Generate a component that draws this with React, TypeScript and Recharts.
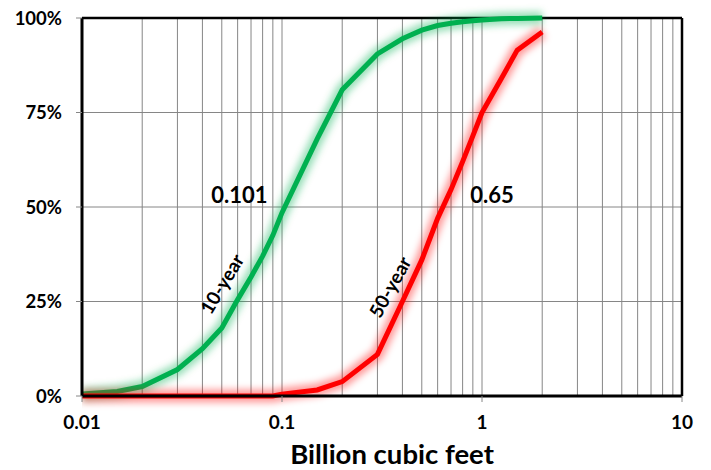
import {
  CartesianGrid,
  Line,
  LineChart,
  ReferenceDot,
  ReferenceLine,
  XAxis,
  YAxis,
} from "recharts";

// volumes, billion cubic feet
const VOLUMES = [
  0.01, 0.015, 0.02, 0.03, 0.04, 0.05, 0.06, 0.07, 0.08, 0.09, 0.1, 0.15, 0.2,
  0.3, 0.4, 0.5, 0.6, 0.7, 0.8, 0.9, 1, 1.25, 1.5, 2,
];
// cumulative probability, %
const TEN_YEAR = [
  0.5, 1.2, 2.5, 7, 12.5, 18, 25.5, 31.5, 37, 42.5, 48.5, 68, 81, 90.5, 94.5,
  96.8, 98, 98.6, 99, 99.3, 99.5, 99.8, 99.9, 100,
];
const FIFTY_YEAR = [
  0, 0, 0, 0, 0, 0, 0, 0, 0, 0, 0.5, 1.6, 3.8, 11, 25, 36, 47, 54.6, 62, 68.8,
  75, 84, 91.5, 96.3,
];

const X_TICKS = [0.01, 0.1, 1, 10];
const Y_TICKS = [0, 25, 50, 75, 100];
const MINOR_X = [
  0.02, 0.03, 0.04, 0.05, 0.06, 0.07, 0.08, 0.09, 0.1, 0.2, 0.3, 0.4, 0.5, 0.6,
  0.7, 0.8, 0.9, 1, 2, 3, 4, 5, 6, 7, 8, 9,
];

const GREEN = "#00b050";
const RED = "#ff0000";
const GRID = "#868686";
const FONT = "Lato, 'Open Sans', sans-serif";

const data = VOLUMES.map((x, i) => ({
  x,
  tenYear: TEN_YEAR[i],
  fiftyYear: FIFTY_YEAR[i],
}));

function TextMark({ cx, cy, text, angle = 0, size = 22 }: any) {
  return (
    <text
      x={cx}
      y={cy}
      textAnchor="middle"
      dominantBaseline="central"
      transform={angle ? `rotate(${angle} ${cx} ${cy})` : undefined}
      fontFamily={FONT}
      fontWeight="bold"
      fontSize={size}
      fill="#000"
    >
      {text}
    </text>
  );
}

export default function App() {
  return (
    <div
      style={{
        position: "absolute",
        left: 0,
        top: 0,
        width: 711,
        height: 470,
        background: "#fff",
      }}
    >
      <LineChart
        width={711}
        height={470}
        data={data}
        margin={{ top: 18, right: 29, left: 0, bottom: 0 }}
      >
        <defs>
          <filter
            id="glow"
            filterUnits="userSpaceOnUse"
            x={0}
            y={0}
            width={711}
            height={470}
          >
            <feGaussianBlur stdDeviation={3.5} />
          </filter>
        </defs>
        <CartesianGrid stroke={GRID} vertical={false} />
        {MINOR_X.map((v) => (
          <ReferenceLine key={v} x={v} stroke={GRID} strokeWidth={1} />
        ))}
        <XAxis
          dataKey="x"
          type="number"
          scale="log"
          domain={[0.01, 10]}
          ticks={X_TICKS}
          allowDataOverflow
          height={74}
          tickSize={6}
          tickMargin={14}
          tickLine={{ stroke: GRID }}
          axisLine={{ stroke: "#000", strokeWidth: 3 }}
          tickFormatter={(v) => String(v)}
          tick={{ fill: "#000", fontSize: 19, fontWeight: "bold", fontFamily: FONT }}
          label={{
            value: "Billion cubic feet",
            position: "insideBottom",
            offset: 6,
            dx: 10,
            fill: "#000",
            fontSize: 27.5,
            fontWeight: "bold",
            fontFamily: FONT,
          }}
        />
        <YAxis
          type="number"
          domain={[0, 100]}
          ticks={Y_TICKS}
          width={82}
          tickSize={6}
          tickMargin={14}
          tickLine={{ stroke: GRID }}
          axisLine={{ stroke: "#000", strokeWidth: 3 }}
          tickFormatter={(v) => `${v}%`}
          tick={{ fill: "#000", fontSize: 18.5, fontWeight: "bold", fontFamily: FONT }}
        />
        <ReferenceLine y={100} stroke="#000" strokeWidth={2.5} />
        <ReferenceLine x={10} stroke="#000" strokeWidth={2.5} />

        <Line
          dataKey="tenYear"
          type="linear"
          stroke={GREEN}
          strokeWidth={13}
          strokeOpacity={0.4}
          filter="url(#glow)"
          dot={false}
          activeDot={false}
          isAnimationActive={false}
        />
        <Line
          dataKey="tenYear"
          type="linear"
          stroke={GREEN}
          strokeWidth={5}
          dot={false}
          activeDot={false}
          isAnimationActive={false}
        />
        <Line
          dataKey="fiftyYear"
          type="linear"
          stroke={RED}
          strokeWidth={13}
          strokeOpacity={0.4}
          filter="url(#glow)"
          dot={false}
          activeDot={false}
          isAnimationActive={false}
        />
        <Line
          dataKey="fiftyYear"
          type="linear"
          stroke={RED}
          strokeWidth={5}
          dot={false}
          activeDot={false}
          isAnimationActive={false}
        />

        <ReferenceDot
          x={0.0613}
          y={53.3}
          r={0}
          ifOverflow="visible"
          shape={(p: any) => <TextMark cx={p.cx} cy={p.cy} text="0.101" />}
        />
        <ReferenceDot
          x={1.122}
          y={53.3}
          r={0}
          ifOverflow="visible"
          shape={(p: any) => <TextMark cx={p.cx} cy={p.cy} text="0.65" />}
        />
        <ReferenceDot
          x={0.0498}
          y={29.7}
          r={0}
          ifOverflow="visible"
          shape={(p: any) => (
            <TextMark cx={p.cx} cy={p.cy} text="10-year" angle={-59} size={19} />
          )}
        />
        <ReferenceDot
          x={0.345}
          y={28.9}
          r={0}
          ifOverflow="visible"
          shape={(p: any) => (
            <TextMark cx={p.cx} cy={p.cy} text="50-year" angle={-61} size={19} />
          )}
        />
      </LineChart>
    </div>
  );
}
